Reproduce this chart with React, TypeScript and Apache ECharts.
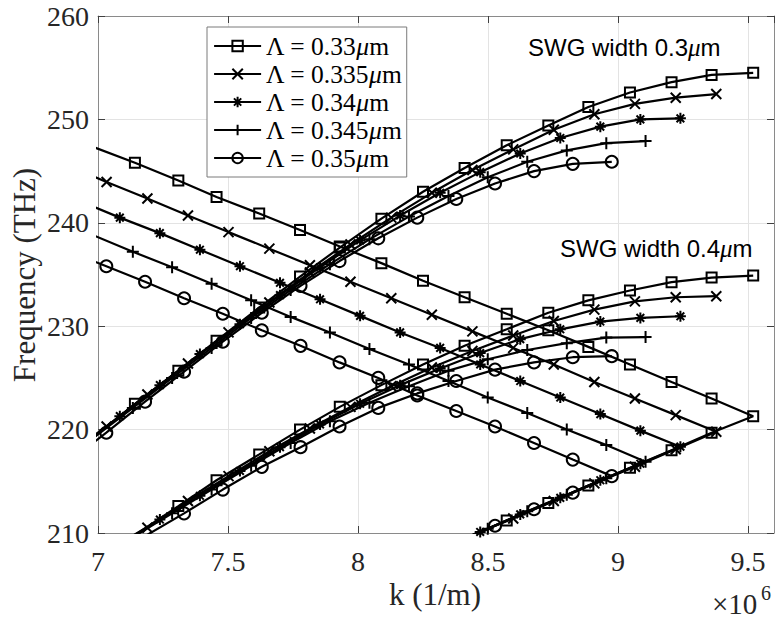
import React, { useEffect, useRef } from 'react';
import * as echarts from 'echarts';

// Period labels (µm)
const lambdaLabels = ['0.33', '0.335', '0.34', '0.345', '0.35'];

// k grids (×1e6 1/m) for each period
const k33 = [6.985, 7.142, 7.309, 7.456, 7.62, 7.777, 7.93, 8.09, 8.25, 8.41, 8.572, 8.732, 8.886, 9.046, 9.206, 9.36, 9.52];
const k335 = [6.877, 7.033, 7.19, 7.346, 7.502, 7.659, 7.815, 7.971, 8.128, 8.284, 8.44, 8.597, 8.753, 8.909, 9.065, 9.222, 9.378];
const k34 = [6.93, 7.084, 7.238, 7.392, 7.546, 7.7, 7.854, 8.008, 8.162, 8.316, 8.47, 8.624, 8.778, 8.932, 9.086, 9.24];
const k345 = [6.982, 7.134, 7.285, 7.437, 7.589, 7.741, 7.892, 8.044, 8.196, 8.348, 8.499, 8.651, 8.803, 8.955, 9.106];
const k35 = [6.882, 7.032, 7.181, 7.331, 7.48, 7.63, 7.779, 7.929, 8.078, 8.228, 8.378, 8.527, 8.677, 8.826, 8.976];

// SWG width 0.3 µm band (THz)
const upper33 = [219.3, 222.5, 225.7, 228.6, 231.8, 234.8, 237.6, 240.4, 243.0, 245.3, 247.5, 249.4, 251.2, 252.6, 253.6, 254.3, 254.5];
const upper335 = [217.3, 220.3, 223.4, 226.4, 229.4, 232.3, 235.2, 237.9, 240.5, 242.9, 245.1, 247.1, 249.0, 250.5, 251.5, 252.1, 252.45];
const upper34 = [218.4, 221.3, 224.3, 227.3, 230.2, 233.0, 235.7, 238.3, 240.7, 242.9, 244.9, 246.7, 248.2, 249.3, 250.0, 250.1];
const upper345 = [219.2, 222.1, 225.0, 227.9, 230.8, 233.5, 236.0, 238.4, 240.6, 242.6, 244.4, 245.9, 247.0, 247.7, 247.9];
const upper35 = [216.8, 219.7, 222.7, 225.6, 228.5, 231.3, 233.9, 236.3, 238.5, 240.5, 242.3, 243.8, 245.0, 245.7, 245.9];

// Folded (descending) lines (THz)
const desc33 = [247.3, 245.8, 244.1, 242.5, 240.9, 239.3, 237.7, 236.1, 234.4, 232.8, 231.2, 229.6, 228.0, 226.3, 224.6, 223.0, 221.3];
const desc335 = [245.6, 243.95, 242.35, 240.7, 239.1, 237.5, 235.9, 234.3, 232.7, 231.1, 229.5, 227.9, 226.3, 224.6, 223.0, 221.4, 219.8];
const desc34 = [242.1, 240.5, 239.0, 237.4, 235.8, 234.2, 232.6, 231.0, 229.4, 227.9, 226.3, 224.7, 223.1, 221.5, 219.9, 218.35];
const desc345 = [238.8, 237.2, 235.7, 234.1, 232.5, 230.9, 229.4, 227.8, 226.3, 224.7, 223.1, 221.6, 220.0, 218.5, 216.9];
const desc35 = [237.3, 235.8, 234.3, 232.7, 231.2, 229.6, 228.1, 226.5, 225.0, 223.3, 221.8, 220.3, 218.7, 217.1, 215.5];

// Return (ascending) lines from the zone edge (THz)
const ret33 = [null, null, null, null, null, null, null, null, null, 209.5, 211.2, 212.9, 214.6, 216.3, 218.0, 219.7, 221.3];
const ret335 = [null, null, null, null, null, null, null, null, null, null, 209.8, 211.4, 213.1, 214.8, 216.4, 218.1, 219.8];
const ret34 = [null, null, null, null, null, null, null, null, null, 208.5, 210.1, 211.8, 213.4, 215.1, 216.7, 218.35];
const ret345 = [null, null, null, null, null, null, null, null, null, 208.8, 210.4, 212.1, 213.7, 215.3, 216.9];
const ret35 = [null, null, null, null, null, null, null, null, null, null, 209.1, 210.7, 212.3, 213.9, 215.5];

// SWG width 0.4 µm band (THz)
const lower33 = [null, 209.8, 212.6, 215.1, 217.6, 220.0, 222.2, 224.3, 226.3, 228.1, 229.7, 231.3, 232.5, 233.45, 234.26, 234.7, 234.9];
const lower335 = [null, 208.2, 210.5, 213.1, 215.5, 217.9, 220.1, 222.2, 224.2, 226.0, 227.6, 229.1, 230.5, 231.6, 232.4, 232.8, 232.9];
const lower34 = [null, 209.0, 211.3, 213.6, 216.0, 218.3, 220.5, 222.5, 224.3, 225.9, 227.4, 228.75, 229.7, 230.45, 230.8, 230.96];
const lower345 = [null, 209.6, 211.9, 214.2, 216.5, 218.7, 220.8, 222.6, 224.2, 225.7, 226.8, 227.7, 228.36, 228.9, 228.95];
const lower35 = [null, null, 209.7, 211.9, 214.2, 216.4, 218.3, 220.3, 222.1, 223.5, 224.7, 225.8, 226.5, 227.0, 227.1];

const xTicks = [7, 7.5, 8, 8.5, 9, 9.5];
const yTicks = [210, 220, 230, 240, 250, 260];

const kGrids = [k33, k335, k34, k345, k35];
const uppers = [upper33, upper335, upper34, upper345, upper35];
const descs = [desc33, desc335, desc34, desc345, desc35];
const rets = [ret33, ret335, ret34, ret345, ret35];
const lowers = [lower33, lower335, lower34, lower345, lower35];

const symbols = [
  'rect',
  'path://M0,0L10,10M10,0L0,10',
  'path://M5,0L5,10M0,5L10,5M1.5,1.5L8.5,8.5M8.5,1.5L1.5,8.5',
  'path://M5,0L5,10M0,5L10,5',
  'circle',
];
const symbolSizes = [10, 10, 11, 12, 12];

const serif = '"Liberation Serif", "Times New Roman", serif';
const sans = '"Liberation Sans", Arial, sans-serif';

function pairs(k: number[], f: (number | null)[]) {
  const out: number[][] = [];
  k.forEach((x, i) => {
    const v = f[i];
    if (v != null) out.push([x, v]);
  });
  return out;
}

export default function App() {
  const ref = useRef<HTMLDivElement>(null);
  useEffect(() => {
    if (!ref.current) return;
    const chart = echarts.init(ref.current, undefined, { renderer: 'svg' });
    const names = lambdaLabels.map((l) => `Λ = ${l}μm`);
    const series: any[] = [];
    lambdaLabels.forEach((_, i) => {
      const base = {
        type: 'line',
        name: names[i],
        symbol: symbols[i],
        symbolSize: symbolSizes[i],
        showSymbol: true,
        showAllSymbol: true,
        clip: true,
        silent: true,
        lineStyle: { color: '#000', width: 2.2 },
        itemStyle: { color: 'transparent', borderColor: '#000', borderWidth: 2 },
        emphasis: { disabled: true },
      };
      const k = kGrids[i];
      const up = pairs(k, uppers[i]);
      const dn = pairs(k, descs[i]);
      const rt = pairs(k, rets[i]).reverse().slice(1);
      const lo = pairs(k, lowers[i]);
      series.push({ ...base, data: up });
      series.push({ ...base, data: dn.concat(rt) });
      series.push({ ...base, data: lo });
    });

    const axisLineStyle = { color: '#8a8a8a', width: 1 };
    const tickStyle = { color: '#404040', width: 1 };

    chart.setOption({
      animation: false,
      grid: { left: 98, top: 16, right: 3, bottom: 90, containLabel: false },
      xAxis: [
        {
          type: 'value', min: 7, max: 9.6, interval: 0.5, position: 'bottom',
          axisLine: { show: true, onZero: false, lineStyle: axisLineStyle },
          axisTick: { show: true, inside: true, length: 7, lineStyle: tickStyle },
          axisLabel: {
            show: true, showMaxLabel: false, margin: 14, color: '#262626',
            fontFamily: serif, fontSize: 28,
            formatter: (v: number) => (xTicks.includes(v) ? String(v) : ''),
          },
          splitLine: { show: true, lineStyle: { color: '#e3e3e3', width: 1 } },
        },
        {
          type: 'value', min: 7, max: 9.6, interval: 0.5, position: 'top',
          axisLine: { show: true, onZero: false, lineStyle: axisLineStyle },
          axisTick: { show: true, inside: true, length: 7, lineStyle: tickStyle },
          axisLabel: { show: false },
          splitLine: { show: false },
        },
      ],
      yAxis: [
        {
          type: 'value', min: 210, max: 260, interval: 10, position: 'left',
          axisLine: { show: true, onZero: false, lineStyle: axisLineStyle },
          axisTick: { show: true, inside: true, length: 7, lineStyle: tickStyle },
          axisLabel: {
            show: true, margin: 9, color: '#262626', fontFamily: serif, fontSize: 28,
            formatter: (v: number) => (yTicks.includes(v) ? String(v) : ''),
          },
          splitLine: { show: true, lineStyle: { color: '#e3e3e3', width: 1 } },
        },
        {
          type: 'value', min: 210, max: 260, interval: 10, position: 'right',
          axisLine: { show: true, onZero: false, lineStyle: axisLineStyle },
          axisTick: { show: true, inside: true, length: 7, lineStyle: tickStyle },
          axisLabel: { show: false },
          splitLine: { show: false },
        },
      ],
      legend: {
        show: true,
        orient: 'vertical',
        left: 207,
        top: 27,
        padding: [6, 5, 6, 6],
        itemGap: 2,
        itemWidth: 47,
        itemHeight: 13,
        backgroundColor: '#fff',
        borderColor: '#7a7a7a',
        borderWidth: 1,
        selectedMode: false,
        data: names,
        itemStyle: { color: 'transparent', borderColor: '#000', borderWidth: 2 },
        lineStyle: { color: '#000', width: 2.2 },
        formatter: (n: string) => n.replace('μ', '{i|μ}'),
        textStyle: {
          fontFamily: serif, fontSize: 25.5, color: '#000', lineHeight: 24,
          rich: { i: { fontFamily: serif, fontSize: 25.5, fontStyle: 'italic', color: '#000', lineHeight: 24 } },
        },
      },
      graphic: [
        {
          type: 'text', left: 528, top: 35, z: 10,
          style: {
            text: 'SWG width 0.3{i|μ}m', fontFamily: sans, fontSize: 24, fill: '#000',
            rich: { i: { fontFamily: serif, fontSize: 25, fontStyle: 'italic', fill: '#000' } },
          },
        },
        {
          type: 'text', left: 560, top: 236, z: 10,
          style: {
            text: 'SWG width 0.4{i|μ}m', fontFamily: sans, fontSize: 24, fill: '#000',
            rich: { i: { fontFamily: serif, fontSize: 25, fontStyle: 'italic', fill: '#000' } },
          },
        },
        {
          type: 'text', x: 435, y: 594, z: 10,
          style: { text: 'k (1/m)', fontFamily: serif, fontSize: 31, fill: '#262626', align: 'center', verticalAlign: 'middle' },
        },
        {
          type: 'text', x: 24, y: 275, rotation: Math.PI / 2, z: 10,
          style: { text: 'Frequency (THz)', fontFamily: serif, fontSize: 31, fill: '#262626', align: 'center', verticalAlign: 'middle' },
        },
        {
          type: 'text', x: 712, y: 604, z: 10,
          style: { text: '×10', fontFamily: serif, fontSize: 29, fill: '#262626', align: 'left', verticalAlign: 'middle' },
        },
        {
          type: 'text', x: 761, y: 593, z: 10,
          style: { text: '6', fontFamily: serif, fontSize: 20, fill: '#262626', align: 'left', verticalAlign: 'middle' },
        },
      ],
      series,
    });
    return () => chart.dispose();
  }, []);
  return <div ref={ref} style={{ position: 'fixed', left: 0, top: 0, width: 777, height: 623, background: '#fff' }} />;
}
